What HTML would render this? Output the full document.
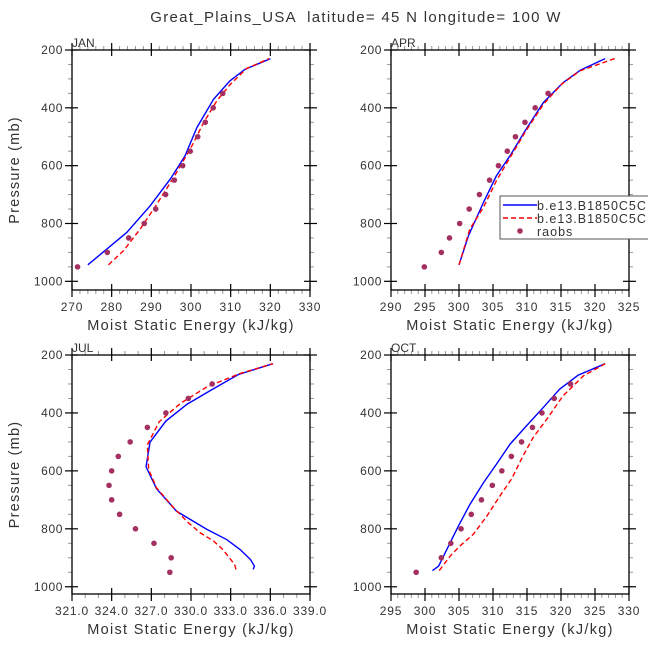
<!DOCTYPE html>
<html><head><meta charset="utf-8"><style>
html,body{margin:0;padding:0;background:#fff;width:648px;height:648px;overflow:hidden}
svg text{font-family:"Liberation Sans",sans-serif;fill:#333}
</style></head><body>
<svg id="fig" width="648" height="648" xmlns="http://www.w3.org/2000/svg">
<text x="356" y="22" font-size="15" letter-spacing="1.3" text-anchor="middle" xml:space="preserve">Great_Plains_USA  latitude= 45 N longitude= 100 W</text>
</svg>
<script>
// ---- data ----
const obsP = [950,900,850,800,750,700,650,600,550,500,450,400,350,300];
const janObs = [271.4,278.9,284.3,288.2,291.1,293.6,295.8,297.9,299.8,301.7,303.6,305.6,308.0];
const janBlueX = [274,283.8,289.7,294.8,298.5,301.5,305.7,309.8,313.6,320];
const janBlueP = [943,831,739,646,566,468,370,307,267,230];
const janRedX = [279.2,283,287.2,291.4,295.6,299.8,303.2,306.5,309.9,314,319.7];
const janRedP = [943,894,819,733,641,543,451,376,319,264,230];
const aprObs = [294.9,297.4,298.6,300.1,301.5,303.0,304.5,305.8,307.1,308.3,309.7,311.2,313.1];
const aprBlueX = [300,301.4,303.6,305.5,307.5,309.7,312.4,315.3,317.9,321.5];
const aprBlueP = [943,842,727,635,566,480,382,313,269,230];
const aprRedX = [300,301.6,303.6,305.5,307.5,309.7,312.4,315.1,317.8,323.1];
const aprRedP = [943,819,744,652,572,485,388,318,272,228];
const julObs = [328.4,328.5,327.2,325.8,324.6,324.0,323.8,324.0,324.5,325.4,326.7,328.1,329.8,331.6];
const julBlueX = [334.7,334.8,334.5,333.7,332.7,331.2,328.9,327.4,326.6,326.9,328.1,329.7,331.6,333.6,336.2];
const julBlueP = [940,929,906,871,837,802,739,662,586,501,428,370,319,267,230];
const julRedX = [333.4,333.3,332.4,331.7,330.7,329.8,328.7,327.4,326.8,326.7,327.6,329.2,331.2,333.7,336.2];
const julRedP = [940,923,871,842,814,779,728,659,596,510,430,367,310,264,230];
const octObs = [298.7,302.4,303.8,305.3,306.8,308.3,309.9,311.3,312.7,314.2,315.8,317.2,319.0,321.4];
const octBlueX = [301.1,302,303.7,304.9,306.6,308.6,310.5,312.5,314.9,317.4,319.8,322.5,326.5];
const octBlueP = [944,929,848,791,716,641,577,508,445,381,318,270,230];
const octRedX = [302.1,303.7,305.1,307.1,309.1,311.0,312.7,314.4,315.9,317.9,320.3,323.3,326.5];
const octRedP = [944,894,860,819,756,687,629,549,485,422,341,272,230];
const janTicks = ["270","280","290","300","310","320","330"];
const aprTicks = ["290","295","300","305","310","315","320","325"];
const julTicks = ["321.0","324.0","327.0","330.0","333.0","336.0","339.0"];
const octTicks = ["295","300","305","310","315","320","325","330"];
const yTicks = ["200","400","600","800","1000"];
const legendLabels = ["b.e13.B1850C5C","b.e13.B1850C5C","raobs"];

const NS="http://www.w3.org/2000/svg";
const svg=document.getElementById('fig');
function mk(t,a,parent){const e=document.createElementNS(NS,t);for(const k in a)e.setAttribute(k,a[k]);(parent||svg).appendChild(e);return e;}

const panels=[
 {name:'jan',label:'JAN',x0:72,x1:310,y0:50,y1:290,pmax:1030,xmin:270,xmax:330,minor:2,ticks:janTicks,obs:janObs,bx:janBlueX,bp:janBlueP,rx:janRedX,rp:janRedP,ylab:true},
 {name:'apr',label:'APR',x0:391,x1:629,y0:50,y1:290,pmax:1030,xmin:290,xmax:325,minor:1,ticks:aprTicks,obs:aprObs,bx:aprBlueX,bp:aprBlueP,rx:aprRedX,rp:aprRedP,ylab:false},
 {name:'jul',label:'JUL',x0:72,x1:310,y0:355,y1:594,pmax:1025,xmin:321,xmax:339,minor:1,ticks:julTicks,obs:julObs,bx:julBlueX,bp:julBlueP,rx:julRedX,rp:julRedP,ylab:true},
 {name:'oct',label:'OCT',x0:391,x1:629,y0:355,y1:594,pmax:1025,xmin:295,xmax:330,minor:1,ticks:octTicks,obs:octObs,bx:octBlueX,bp:octBlueP,rx:octRedX,rp:octRedP,ylab:false}
];

panels.forEach(P=>{
  const g=mk('g',{});
  
  
  const sx=v=>P.x0+(v-P.xmin)/(P.xmax-P.xmin)*(P.x1-P.x0);
  const sy=p=>P.y0+(p-200)/(P.pmax-200)*(P.y1-P.y0);
  for(let v=P.xmin;v<=P.xmax+1e-6;v+=P.minor){
    const x=sx(v);
    mk('line',{x1:x,x2:x,y1:P.y1,y2:P.y1+4,stroke:'#999','stroke-width':1},g);
    mk('line',{x1:x,x2:x,y1:P.y0,y2:P.y0-4,stroke:'#999','stroke-width':1},g);
  }
  P.ticks.forEach((t,i)=>{
    const x=sx(parseFloat(t));
    mk('line',{x1:x,x2:x,y1:P.y1-6,y2:P.y1+7,stroke:'#000','stroke-width':1.2},g);
    mk('line',{x1:x,x2:x,y1:P.y0-7,y2:P.y0+6,stroke:'#000','stroke-width':1.2},g);
    const tx=mk('text',{x:x,y:P.y1+21,'font-size':12,'letter-spacing':0.8,'text-anchor':'middle'},g);
    
    
    tx.textContent=t;
  });
  for(let p=200;p<=1000;p+=50){
    const y=sy(p);
    mk('line',{x1:P.x0-4,x2:P.x0,y1:y,y2:y,stroke:'#999','stroke-width':1},g);
    mk('line',{x1:P.x1,x2:P.x1+4,y1:y,y2:y,stroke:'#999','stroke-width':1},g);
  }
  yTicks.forEach(t=>{
    const y=sy(parseFloat(t));
    mk('line',{x1:P.x0-7,x2:P.x0+6,y1:y,y2:y,stroke:'#000','stroke-width':1.2},g);
    mk('line',{x1:P.x1-6,x2:P.x1+7,y1:y,y2:y,stroke:'#000','stroke-width':1.2},g);
    const tx=mk('text',{x:P.x0-9,y:y+4,'font-size':12,'letter-spacing':0.6,'text-anchor':'end'},g);
    
    
    tx.textContent=t;
  });
  const fr=mk('rect',{x:P.x0,y:P.y0,width:P.x1-P.x0,height:P.y1-P.y0,fill:'none',stroke:'#000','stroke-width':1.3},g);
  
  
  const lab=mk('text',{x:P.x0,y:P.y0-3,'font-size':12},g);
  
  
  lab.textContent=P.label;
  const xl=mk('text',{x:(P.x0+P.x1)/2,y:P.y1+40,'font-size':14.5,'letter-spacing':1.3,'text-anchor':'middle'},g);
  
  
  xl.textContent='Moist Static Energy (kJ/kg)';
  if(P.ylab){
    const cy=(P.y0+P.y1)/2;
    const yl=mk('text',{x:19,y:cy,'font-size':14.5,'letter-spacing':1.2,'text-anchor':'middle',transform:`rotate(-90 19 ${cy})`},g);
    
    
    yl.textContent='Pressure (mb)';
  }
  const b=mk('polyline',{points:P.bx.map((v,i)=>sx(v)+','+sy(P.bp[i])).join(' '),fill:'none',stroke:'#0000ff','stroke-width':1.4},g);
  
  
  const r=mk('polyline',{points:P.rx.map((v,i)=>sx(v)+','+sy(P.rp[i])).join(' '),fill:'none',stroke:'#ff0000','stroke-width':1.4,'stroke-dasharray':'5,3'},g);
  
  
  P.obs.forEach((v,i)=>{
    const c=mk('circle',{cx:sx(v),cy:sy(obsP[i]),r:2.8,fill:'#a33060'},g);
    
    
  });
});

const lg=mk('g',{});


mk('rect',{x:500,y:196,width:160,height:43,fill:'#fff',stroke:'#555','stroke-width':1},lg);
mk('line',{x1:503,x2:537,y1:205,y2:205,stroke:'#0000ff','stroke-width':1.4},lg);
mk('line',{x1:503,x2:537,y1:218,y2:218,stroke:'#ff0000','stroke-width':1.4,'stroke-dasharray':'5,3'},lg);
mk('circle',{cx:520,cy:231,r:2.8,fill:'#a33060'},lg);
legendLabels.forEach((t,i)=>{
  const tx=mk('text',{x:537,y:210+i*13,'font-size':12.5,'letter-spacing':1},lg);
  
  
  tx.textContent=t;
});
</script>
</body></html>
